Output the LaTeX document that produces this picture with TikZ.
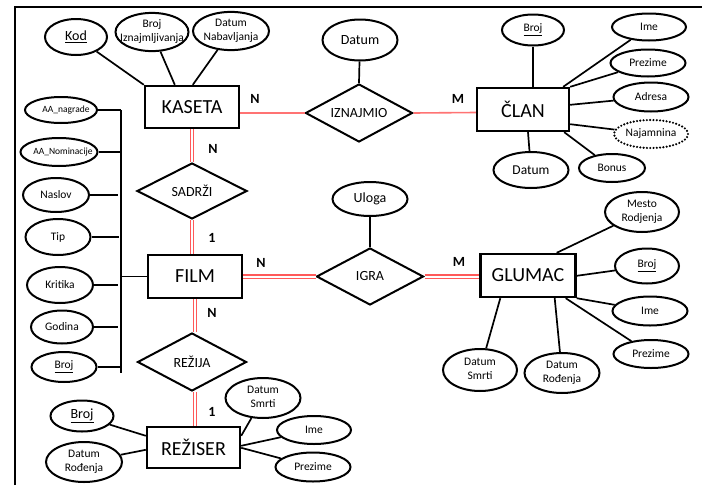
\documentclass[tikz,border=0pt]{standalone}
\usepackage{fontspec}
\setmainfont{Carlito}
\usetikzlibrary{shapes.geometric,calc}
\newcommand{\nowd}[1]{\makebox[0pt]{#1}}
\newcommand{\twoline}[2]{\makebox[0pt]{\begin{tabular}{@{}c@{}}#1\\#2\end{tabular}}}
\begin{document}
\begin{tikzpicture}[x=1pt,y=-1pt,
 ent/.style={draw,line width=2.4pt,rectangle,inner sep=0pt,font=\fontsize{20}{22}\selectfont},
 rel/.style={draw,line width=2pt,diamond,shape aspect=1.9,inner sep=0pt,font=\fontsize{14}{16}\selectfont},
 attr/.style={draw,line width=2pt,ellipse,inner sep=0pt,align=center,font=\fontsize{11.5}{13.5}\selectfont},
 attrbig/.style={attr,font=\fontsize{14}{16}\selectfont},
 attrtiny/.style={attr,font=\fontsize{9.5}{11}\selectfont},
 dotattr/.style={attr,dash pattern=on 0pt off 3.3pt,line cap=round,line width=2.4pt},
 conn/.style={line width=1.7pt},
 dbl/.style={draw=red!65,line width=1.1pt,double=white,double distance=2pt},
 sgl/.style={draw=red!55,line width=1.6pt},
 card/.style={font=\bfseries\fontsize{14}{16}\selectfont,inner sep=0pt},
]
\useasboundingbox (0,0) rectangle (702,485);
% frame
\draw[line width=1.8pt] (15,485) -- (15,7) -- (702,7);

% entities
\node[ent,minimum width=94,minimum height=42] (kaseta) at (192,107) {KASETA};
\node[ent,minimum width=92,minimum height=43] (clan) at (523,109.5) {ČLAN};
\node[ent,minimum width=94,minimum height=43] (film) at (195,276.5) {FILM};
\node[ent,minimum width=95,minimum height=43] (glumac) at (528,275.5) {GLUMAC};
\node[ent,minimum width=93,minimum height=41] (rez) at (193.5,447.5) {REŽISER};

% relationships
\node[rel,minimum width=107,minimum height=58] (izn) at (359,113) {IZNAJMIO};
\node[rel,minimum width=110,minimum height=56] (sad) at (192,191) {SADRŽI};
\node[rel,minimum width=107,minimum height=57] (igra) at (370,276.5) {IGRA};
\node[rel,minimum width=109,minimum height=58] (rezija) at (192,362) {REŽIJA};

% KASETA attributes
\node[attrbig,minimum width=62,minimum height=36] (kod) at (76,37) {\nowd{\underline{Kod}}};
\node[attr,minimum width=73,minimum height=37] (brizn) at (152,32) {\twoline{Broj}{Iznajmljivanja}};
\node[attr,minimum width=76,minimum height=37] (datnab) at (231,31) {\twoline{Datum}{Nabavljanja}};
\draw[conn] (kod) -- (kaseta.north west);
\draw[conn] (brizn) -- ([xshift=31pt]kaseta.north west);
\draw[conn] (datnab) -- ([xshift=49pt]kaseta.north west);

% IZNAJMIO attribute
\node[attrbig,minimum width=75,minimum height=41] (datizn) at (360,40) {\nowd{Datum}};
\draw[conn] (datizn) -- (izn.north);

% CLAN attributes
\node[attr,minimum width=62,minimum height=31] (cbroj) at (533,30) {\nowd{\underline{Broj}}};
\node[attr,minimum width=74,minimum height=27] (cime) at (649,27) {\nowd{Ime}};
\node[attr,minimum width=75,minimum height=27] (cprez) at (648,63) {\nowd{Prezime}};
\node[attr,minimum width=75,minimum height=29] (cadr) at (651,97) {\nowd{Adresa}};
\node[dotattr,minimum width=74,minimum height=28] (cnaj) at (651,134) {\nowd{Najamnina}};
\node[attr,minimum width=66,minimum height=28] (cbon) at (612,168) {\nowd{Bonus}};
\node[attr,font=\fontsize{13.5}{15}\selectfont,minimum width=75,minimum height=36] (cdat) at (531,170) {\nowd{Datum}};
\draw[conn] (cbroj) -- ([xshift=10pt]clan.north);
\draw[conn] (cime) -- ([xshift=-7pt]clan.north east);
\draw[conn] (cprez) -- (clan.north east);
\draw[conn] (cadr) -- ([yshift=-18pt]clan.north east);
\draw[conn] (cnaj) -- ([yshift=8pt]clan.south east);
\draw[conn] (cbon) -- ([xshift=-6pt]clan.south east);
\draw[conn] (cdat) -- ([xshift=5pt]clan.south);

% FILM attributes (left column)
\coordinate (barT) at (121,110);
\coordinate (barB) at (121,373);
\node[attrtiny,minimum width=72,minimum height=26] (aanag) at (61,110) {\hspace*{10pt}\nowd{AA\_nagrade}};
\node[attrtiny,minimum width=77,minimum height=28] (aanom) at (59,152) {\hspace*{8pt}\nowd{AA\_Nominacije}};
\node[attr,minimum width=66,minimum height=34] (naslov) at (56,195) {\nowd{Naslov}};
\node[attr,minimum width=65,minimum height=36] (tip) at (58,237) {\nowd{Tip}};
\node[attr,minimum width=66,minimum height=36] (krit) at (60,285) {\nowd{Kritika}};
\node[attr,minimum width=62,minimum height=33] (god) at (62,327) {\nowd{Godina}};
\node[attr,minimum width=65,minimum height=30] (fbroj) at (64,367) {\nowd{\underline{Broj}}};
\draw[conn] (barT) -- (barB);
\draw[conn] (aanag.east) -- (aanag.east -| barT);
\draw[conn] (aanom.east) -- (aanom.east -| barT);
\draw[conn] (naslov.east) -- ([xshift=-3pt]naslov.east -| barT);
\draw[conn] (tip.east) -- ([xshift=-2pt]tip.east -| barT);
\draw[conn] (krit.east) -- ([xshift=-3pt]krit.east -| barT);
\draw[conn] (god.east) -- ([xshift=-3pt]god.east -| barT);
\draw[conn] (fbroj.east) -- (fbroj.east -| barT);
\draw[conn] (film.west) -- (film.west -| barT);

% IGRA attribute
\node[attrbig,minimum width=75,minimum height=34] (uloga) at (370,199) {\nowd{Uloga}};
\draw[conn] (uloga) -- (igra.north);

% GLUMAC attributes
\node[attr,minimum width=74,minimum height=40] (gmesto) at (642,212) {\twoline{Mesto}{Rodjenja}};
\node[attr,minimum width=64,minimum height=35] (gbroj) at (647,266) {\nowd{\underline{Broj}}};
\node[attr,minimum width=75,minimum height=29] (gime) at (650,311) {\nowd{Ime}};
\node[attr,minimum width=75,minimum height=28] (gprez) at (651,354) {\nowd{Prezime}};
\node[attr,minimum width=74,minimum height=42] (gsmrt) at (480,370) {\twoline{Datum}{Smrti}};
\node[attr,minimum width=75,minimum height=40] (grod) at (562,373) {\twoline{Datum}{Rođenja}};
\draw[conn] (gmesto) -- ([xshift=-20pt]glumac.north east);
\draw[conn] (gbroj) -- ([yshift=-23pt]glumac.north east);
\draw[conn] (gime) -- (glumac.south east);
\draw[conn] (gprez) -- ([xshift=-11pt]glumac.south east);
\draw[conn] (grod) -- ([xshift=-22pt]glumac.south east);
\draw[conn] (gsmrt) -- ([xshift=21pt]glumac.south west);

% REZISER attributes
\node[attrbig,minimum width=63,minimum height=31] (rbroj) at (82,416) {\nowd{\underline{Broj}}};
\node[attr,minimum width=76,minimum height=40] (rrod) at (84,462) {\twoline{Datum}{Rođenja}};
\node[attr,minimum width=75,minimum height=40] (rsmrt) at (263,398) {\twoline{Datum}{Smrti}};
\node[attr,minimum width=74,minimum height=28] (rime) at (314,430) {\nowd{Ime}};
\node[attr,minimum width=75,minimum height=29] (rprez) at (313,467) {\nowd{Prezime}};
\draw[conn] (rbroj) -- ([yshift=-10pt]rez.north west);
\draw[conn] (rrod) -- ([yshift=-24pt]rez.north west);
\draw[conn] (rsmrt) -- ([yshift=-10pt]rez.north east);
\draw[conn] (rime) -- ([yshift=-20pt]rez.north east);
\draw[conn] (rprez) -- ([yshift=-22pt]rez.north east);

% relationship lines
\draw[sgl] ([yshift=-6pt]kaseta.east) -- (izn.west);
\draw[sgl] (izn.east) -- ([yshift=-3pt]clan.west);
\draw[dbl] (kaseta.south) -- (sad.north);
\draw[dbl] (sad.south) -- (sad.south |- film.north);
\draw[dbl] (film.east) -- (igra.west);
\draw[dbl] (igra.east) -- (igra.east -| glumac.west);
\draw[dbl] (film.south) -- (film.south |- rezija.north);
\draw[dbl] ([xshift=3pt]rezija.south) -- ([xshift=3pt]rezija.south |- rez.north);

% cardinalities
\node[card] (c1) at (255,99) {N};
\node[card] (c2) at (213,149) {N};
\node[card] (c3) at (458,99) {M};
\node[card] (c4) at (212,238) {1};
\node[card] (c5) at (261,263) {N};
\node[card] (c6) at (459,262) {M};
\node[card] (c7) at (212,313) {N};
\node[card] (c8) at (212,412) {1};
\end{tikzpicture}
\end{document}
